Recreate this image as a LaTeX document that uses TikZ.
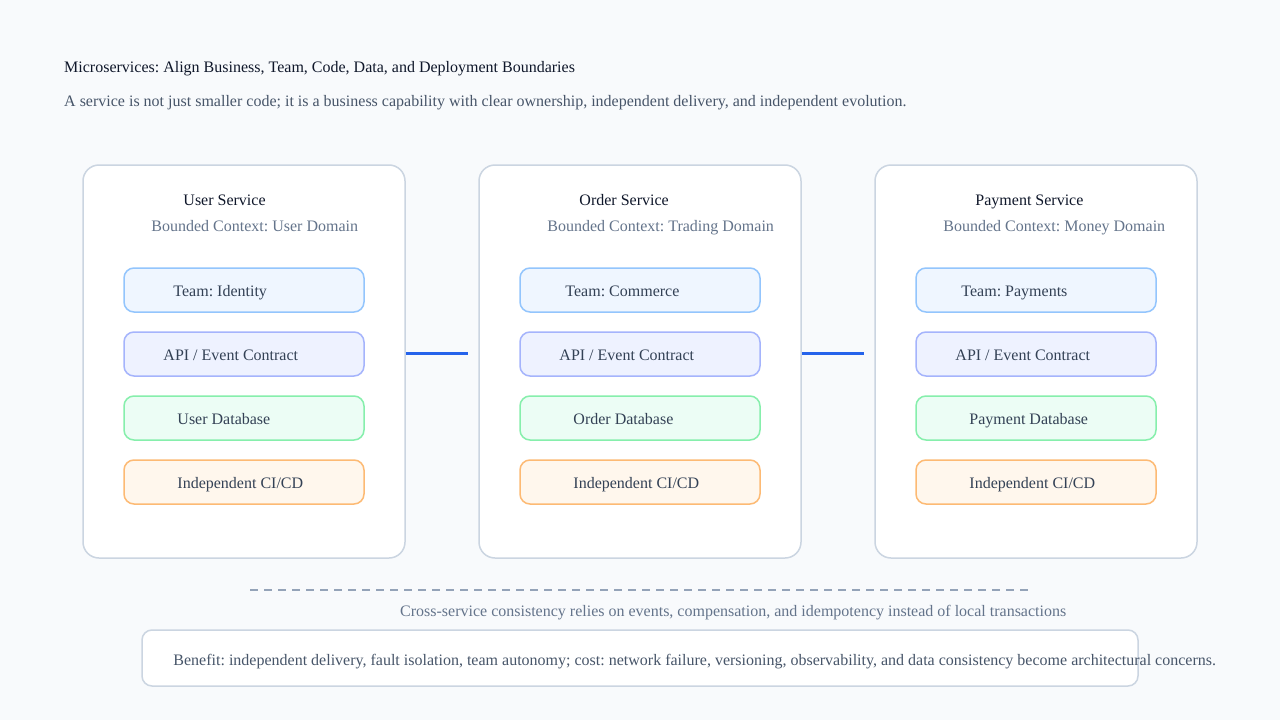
\documentclass[tikz,border=0pt]{standalone}
\usepackage{fontspec}
\setmainfont{Liberation Serif}
\frenchspacing
\usetikzlibrary{calc}
\definecolor{bg}{HTML}{F8FAFC}
\definecolor{ink}{HTML}{0F172A}
\definecolor{sub}{HTML}{475569}
\definecolor{muted}{HTML}{64748B}
\definecolor{frame}{HTML}{CBD5E1}
\definecolor{teamfill}{HTML}{EFF6FF}
\definecolor{teamline}{HTML}{93C5FD}
\definecolor{apifill}{HTML}{EEF2FF}
\definecolor{apiline}{HTML}{A5B4FC}
\definecolor{dbfill}{HTML}{ECFDF5}
\definecolor{dbline}{HTML}{86EFAC}
\definecolor{cifill}{HTML}{FFF7ED}
\definecolor{ciline}{HTML}{FDBA74}
\definecolor{linkblue}{HTML}{2563EB}
\definecolor{dash}{HTML}{94A3B8}
\definecolor{boxtext}{HTML}{334155}
\tikzset{
  x=1pt, y=-1pt,
  txt/.style={inner sep=0pt, anchor=base west, font=\fontsize{16}{18}\selectfont},
  service/.style={draw=frame, line width=1.5pt, fill=white, rounded corners=16pt,
    minimum width=322pt, minimum height=393pt, inner sep=0pt},
  inner/.style={line width=1.5pt, rounded corners=10pt, minimum width=240pt,
    minimum height=44pt, inner sep=0pt},
  teambox/.style={inner, draw=teamline, fill=teamfill},
  apibox/.style={inner, draw=apiline, fill=apifill},
  dbbox/.style={inner, draw=dbline, fill=dbfill},
  cibox/.style={inner, draw=ciline, fill=cifill},
  link/.style={draw=linkblue, line width=3pt},
  sep/.style={draw=dash, line width=1.2pt, dash pattern=on 8pt off 6pt},
  note/.style={draw=frame, line width=1.5pt, fill=white, rounded corners=10pt,
    minimum width=996pt, minimum height=56pt, inner sep=0pt}
}
\begin{document}
\begin{tikzpicture}
\fill[bg] (0,0) rectangle (1280,720);
\useasboundingbox (0,0) rectangle (1280,720);

\node[txt, text=ink] (title) at (64,72.5) {Microservices: Align Business, Team, Code, Data, and Deployment Boundaries};
\node[txt, text=sub] (subtitle) at (64,106.5) {A service is not just smaller code; it is a business capability with clear ownership, independent delivery, and independent evolution.};

% service columns
\foreach \n/\cx/\name/\ctx/\team/\tof/\db in {
  user/244/User Service/User Domain/Identity/50/User Database,
  order/640/Order Service/Trading Domain/Commerce/46/Order Database,
  pay/1036/Payment Service/Money Domain/Payments/46/Payment Database}{
  \node[service] (\n) at (\cx,361.5) {};
  \node[txt, text=ink] (\n-title) at ($(\n.north west)+(101,41.5)$) {\name};
  \node[txt, text=muted] (\n-ctx) at ($(\n.north west)+(69,67.5)$) {Bounded Context: \ctx};
  \node[teambox] (\n-team) at (\cx,290) {};
  \node[apibox] (\n-api) at (\cx,354) {};
  \node[dbbox] (\n-db) at (\cx,418) {};
  \node[cibox] (\n-ci) at (\cx,482) {};
  \node[txt, text=boxtext] at ($(\n-team.west)+(\tof,6.5)$) {Team: \team};
  \node[txt, text=boxtext] at ($(\n-api.west)+(40,6.5)$) {API / Event Contract};
  \node[txt, text=boxtext] at ($(\n-db.west)+(54,6.5)$) {\db};
  \node[txt, text=boxtext] at ($(\n-ci.west)+(54,6.5)$) {Independent CI/CD};
}

% connectors
\coordinate (l1end) at (468,353);
\coordinate (l2end) at (864,353);
\draw[link] (user.east |- l1end) -- (l1end);
\draw[link] (order.east |- l2end) -- (l2end);

% dashed separator
\coordinate (dA) at (250,590);
\coordinate (dB) at (1028,590);
\draw[sep] (dA) -- (dB);
\node[txt, text=muted] (cross) at (400,616) {Cross-service consistency relies on events, compensation, and idempotency instead of local transactions};

% bottom note
\node[note] (notebox) at (640,658) {};
\node[txt, text=sub] (notetext) at ($(notebox.west)+(32,7)$) {Benefit: independent delivery, fault isolation, team autonomy; cost: network failure, versioning, observability, and data consistency become architectural concerns.};
\end{tikzpicture}
\end{document}
